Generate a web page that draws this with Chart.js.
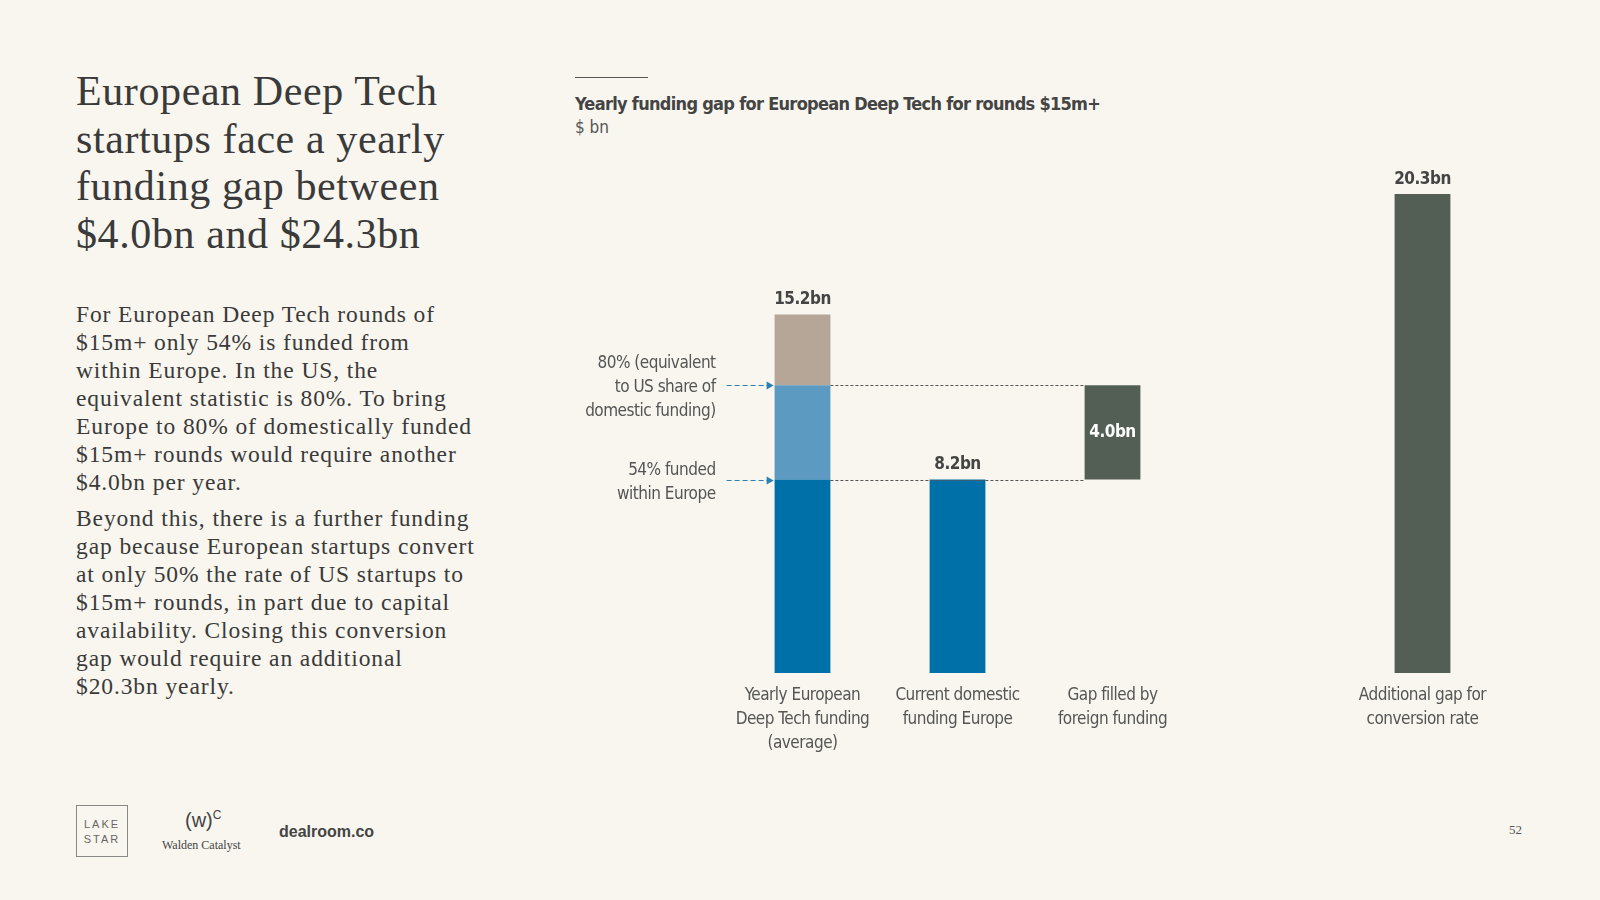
<!DOCTYPE html>
<html><head><meta charset="utf-8">
<script src="https://cdn.jsdelivr.net/npm/chart.js@4"></script>
<style>
body{margin:0;background:#f8f6ee;width:1600px;height:900px;overflow:hidden;position:relative;font-family:"Liberation Serif",serif;color:#333}
#c{position:absolute;left:0;top:0}
.t{position:absolute;left:76px;top:68px;font-size:42px;line-height:47.5px;color:#3a3a3a;letter-spacing:0.6px}
.b{position:absolute;left:76px;top:300px;width:405px;font-size:23.5px;line-height:28px;color:#3a3a3a;letter-spacing:0.9px}
.b p{margin:0 0 8px 0}
.n{font-family:"DejaVu Sans Condensed","Liberation Sans Narrow",sans-serif}
</style></head><body>
<div class="t">European Deep Tech<br>startups face a yearly<br>funding gap between<br>$4.0bn and $24.3bn</div>
<div class="b"><p>For European Deep Tech rounds of $15m+ only 54% is funded from within Europe. In the US, the equivalent statistic is 80%. To bring Europe to 80% of domestically funded $15m+ rounds would require another $4.0bn per year.</p><p>Beyond this, there is a further funding gap because European startups convert at only 50% the rate of US startups to $15m+ rounds, in part due to capital availability. Closing this conversion gap would require an additional $20.3bn yearly.</p></div>
<div style="position:absolute;left:575px;top:77px;width:73px;border-top:1.5px solid #555"></div>
<div class="n" style="position:absolute;left:575px;top:93px;font-size:18px;letter-spacing:-0.7px;font-weight:bold;color:#444">Yearly funding gap for European Deep Tech for rounds $15m+</div>
<div class="n" style="position:absolute;left:575px;top:117px;font-size:17px;color:#555">$ bn</div>
<div style="position:absolute;left:76px;top:805px;width:52px;height:52px;border:1px solid #888;font-family:'Liberation Sans',sans-serif;font-size:11px;color:#666;text-align:center;line-height:15px;letter-spacing:2px;box-sizing:border-box;padding-top:11px">LAKE<br>STAR</div>
<div style="position:absolute;left:185px;top:808px;font-family:'Liberation Sans',sans-serif;font-size:20px;color:#444">(w)<sup style="font-size:12px">C</sup></div>
<div style="position:absolute;left:162px;top:838px;font-size:12px;color:#444">Walden Catalyst</div>
<div style="position:absolute;left:279px;top:823px;font-family:'Liberation Sans',sans-serif;font-weight:bold;font-size:16px;color:#444">dealroom.co</div>
<div style="position:absolute;left:1509px;top:822px;font-size:13px;color:#555">52</div>
<canvas id="c" width="1600" height="900"></canvas>
<script>
const categories=[["Yearly European","Deep Tech funding","(average)"],["Current domestic","funding Europe"],["Gap filled by","foreign funding"],[""],["Additional gap for","conversion rate"]];
const domestic=[[0,8.2],[0,8.2],null,null,null];
const toUS=[[8.2,12.2],null,null,null,null];
const foreign=[[12.2,15.2],null,null,null,null];
const gap=[null,null,[8.2,12.2],null,[0,20.3]];
const valueLabels=[["15.2bn",0,15.2,false],["8.2bn",1,8.2,false],["4.0bn",2,10.2,true],["20.3bn",4,20.3,false]];
const F='"DejaVu Sans Condensed","Liberation Sans Narrow",sans-serif';
const deco={id:'deco',afterDatasetsDraw(ch){
 const c=ch.ctx,x=ch.scales.x,y=ch.scales.y,meta=ch.getDatasetMeta(0);
 const hw=meta.data[0].width/2;
 c.save();
 if('letterSpacing' in c)c.letterSpacing='-0.5px';
 c.textAlign='center';c.fillStyle='#555';c.font='17px '+F;
 categories.forEach((l,i)=>l.forEach((s,j)=>c.fillText(s,x.getPixelForValue(i),700+j*24)));
 valueLabels.forEach(([t,i,v,inside])=>{c.font='bold 17px '+F;
  if(inside){c.fillStyle='#fff';c.textBaseline='middle';c.fillText(t,x.getPixelForValue(i),y.getPixelForValue(v));}
  else{c.fillStyle='#444';c.textBaseline='bottom';c.fillText(t,x.getPixelForValue(i),y.getPixelForValue(v)-6);}
  c.textBaseline='alphabetic';});
 c.setLineDash([3,2]);c.lineWidth=1;c.strokeStyle='#555';
 [12.2,8.2].forEach(v=>{const py=Math.round(y.getPixelForValue(v))+0.5;c.beginPath();c.moveTo(x.getPixelForValue(0)+hw,py);c.lineTo(x.getPixelForValue(2)-hw,py);c.stroke();});
 c.strokeStyle='#2a7fb5';c.fillStyle='#2a7fb5';
 const ax=x.getPixelForValue(0)-hw;
 [12.2,8.2].forEach(v=>{const py=Math.round(y.getPixelForValue(v))+0.5;c.setLineDash([5,3]);c.beginPath();c.moveTo(ax-48,py);c.lineTo(ax-4,py);c.stroke();c.setLineDash([]);c.beginPath();c.moveTo(ax-1,py);c.lineTo(ax-8,py-4);c.lineTo(ax-8,py+4);c.fill();});
 c.fillStyle='#555';c.font='17px '+F;c.textAlign='right';
 const tx=ax-59;let py=y.getPixelForValue(12.2);
 ["80% (equivalent","to US share of","domestic funding)"].forEach((s,j)=>c.fillText(s,tx,py-17+j*24));
 py=y.getPixelForValue(8.2);
 ["54% funded","within Europe"].forEach((s,j)=>c.fillText(s,tx,py-5+j*24));
 c.restore();}};
const ds=(d,col)=>({data:d,backgroundColor:col,barPercentage:0.36,categoryPercentage:1});
new Chart(document.getElementById('c'),{type:'bar',
 data:{labels:categories.map((_,i)=>i),datasets:[ds(domestic,'#0070a8'),ds(toUS,'#5c9ac2'),ds(foreign,'#b5a697'),ds(gap,'#535f55')]},
 options:{responsive:false,animation:false,layout:{padding:{left:725,right:100,top:154,bottom:227}},
  plugins:{legend:{display:false},tooltip:{enabled:false}},
  scales:{x:{display:false,stacked:true},y:{display:false,stacked:false,min:0,max:22}}},
 plugins:[deco]});
</script></body></html>
